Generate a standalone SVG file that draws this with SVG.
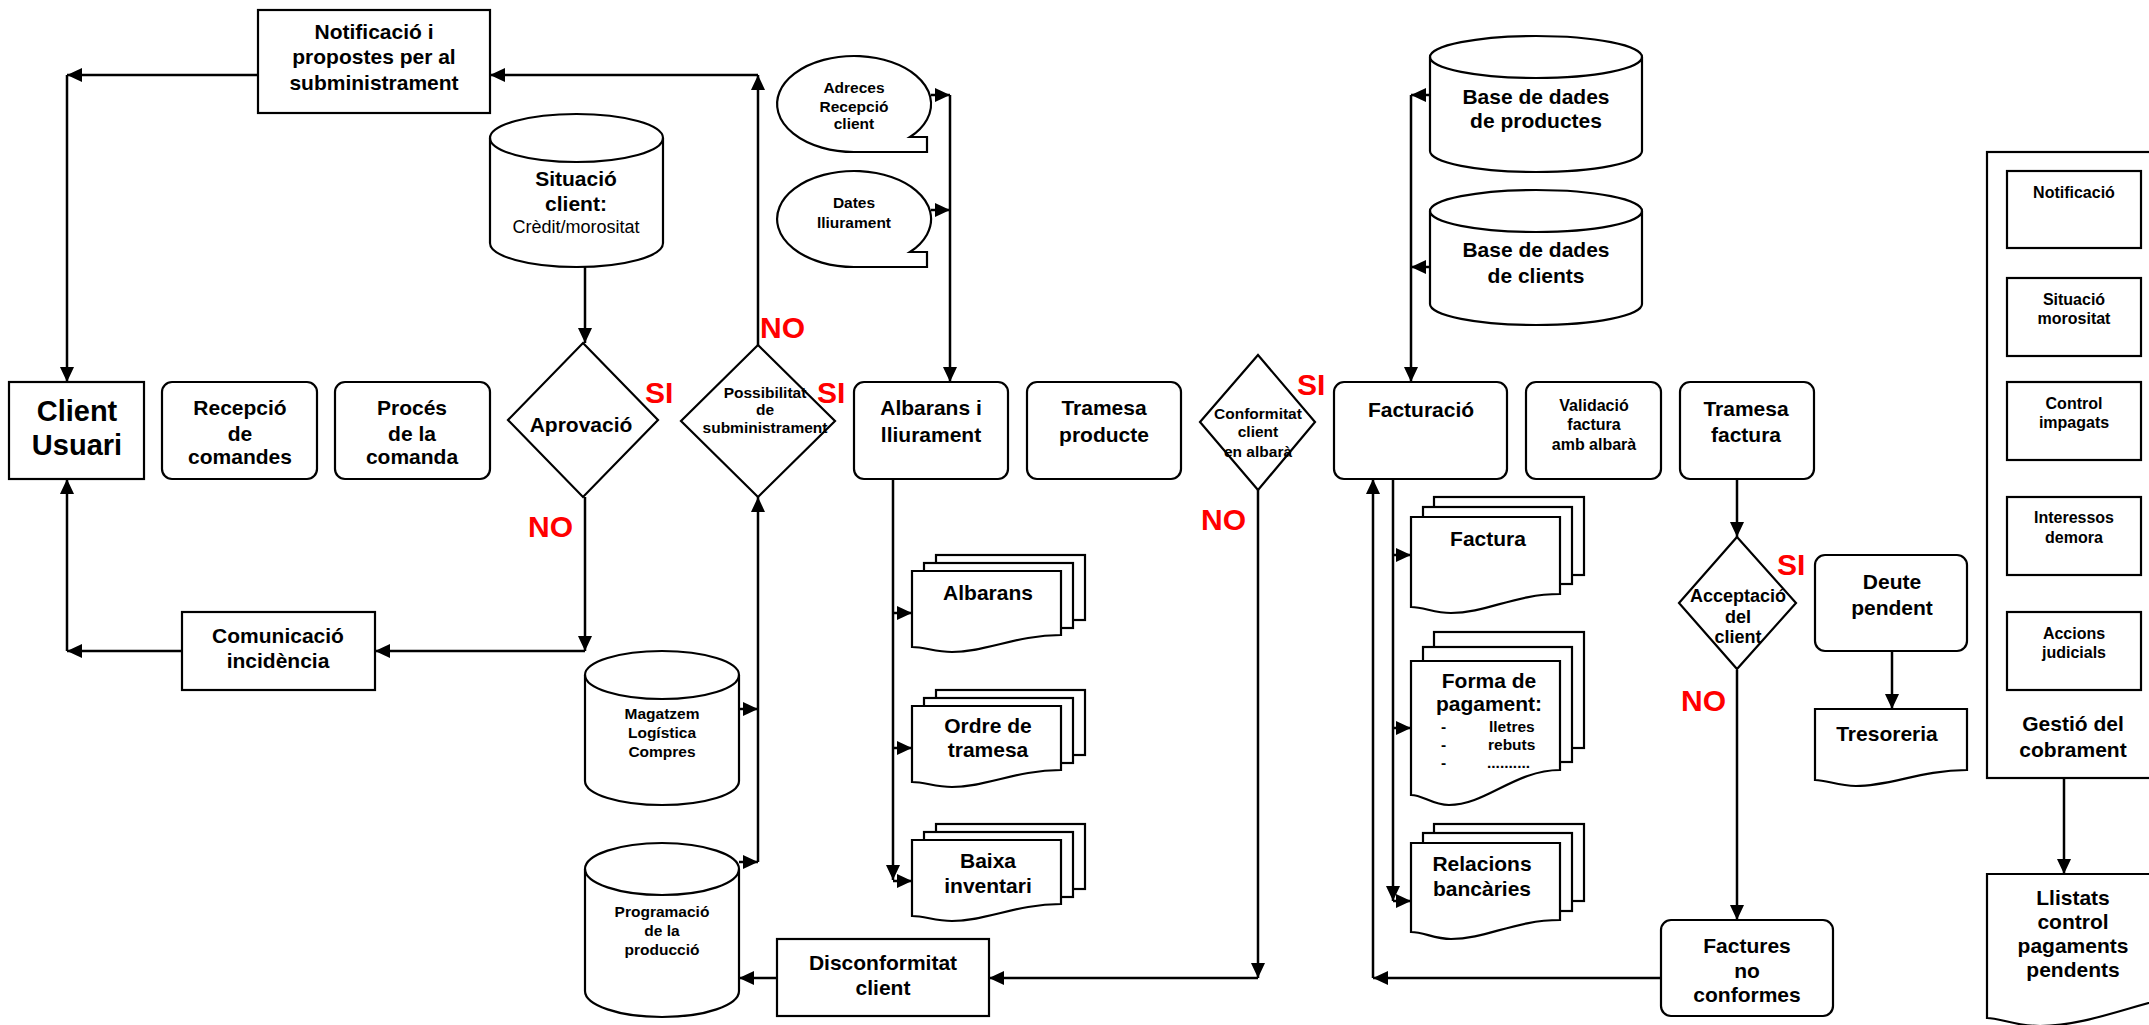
<svg xmlns="http://www.w3.org/2000/svg" width="2149" height="1025" viewBox="0 0 2149 1025">
<style>
.b{fill:#fff;stroke:#000;stroke-width:2.2}
.fr{fill:none;stroke:#000;stroke-width:2.2}
.l{fill:none;stroke:#000;stroke-width:2.5;marker-end:url(#ah)}
text{font-family:"Liberation Sans",Arial,sans-serif;font-weight:bold;text-anchor:middle;fill:#000}
.f21{font-size:21px}
.f15{font-size:15.5px}
.f16{font-size:16px}
.f18{font-size:18px}
.f29{font-size:29px}
.nw{font-weight:normal;font-size:18px}
.r{fill:#f00;font-size:30px;text-anchor:start}
.st{text-anchor:start}
</style>
<defs>
<marker id="ah" markerUnits="userSpaceOnUse" markerWidth="15" markerHeight="14" viewBox="0 0 15 14" refX="15" refY="7" orient="auto"><path d="M0,0 L15,7 L0,14 z" fill="#000"/></marker>
</defs>
<rect width="2149" height="1025" fill="#fff"/>

<g id="connectors">
<path class="l" d="M258,75 H67"/>
<path class="l" d="M67,75 V382"/>
<path class="l" d="M758,345 V75"/>
<path class="l" d="M758,75 H490"/>
<path class="l" d="M585,267 V343"/>
<path class="l" d="M585,497 V651"/>
<path class="l" d="M585,651 H375"/>
<path class="l" d="M182,651 H67"/>
<path class="l" d="M67,651 V479"/>
<path class="l" d="M739,709 H758"/>
<path class="l" d="M739,862 H758"/>
<path class="l" d="M758,862 V497"/>
<path class="l" d="M777,978 H739"/>
<path class="l" d="M1258,490 V978"/>
<path class="l" d="M1258,978 H989"/>
<path class="l" d="M931,95 H950"/>
<path class="l" d="M931,210 H950"/>
<path class="l" d="M950,95 V382"/>
<path class="l" d="M893,479 V880"/>
<path class="l" d="M893,613 H912"/>
<path class="l" d="M893,748 H912"/>
<path class="l" d="M893,881 H912"/>
<path class="l" d="M1430,95 H1411"/>
<path class="l" d="M1430,267 H1411"/>
<path class="l" d="M1411,95 V382"/>
<path class="l" d="M1393,479 V901"/>
<path class="l" d="M1393,555 H1411"/>
<path class="l" d="M1393,728 H1411"/>
<path class="l" d="M1393,901 H1411"/>
<path class="l" d="M1661,978 H1373"/>
<path class="l" d="M1373,978 V479"/>
<path class="l" d="M1737,479 V537"/>
<path class="l" d="M1737,670 V920"/>
<path class="l" d="M1892,651 V709"/>
<path class="l" d="M2064,778 V874"/>
</g>

<g id="notificacio-propostes">
<rect class="b" x="258" y="10" width="232" height="103"/>
<text class="f21" x="374" y="39">Notificació i</text>
<text class="f21" x="374" y="64">propostes per al</text>
<text class="f21" x="374" y="90">subministrament</text>
</g>

<g id="client-usuari">
<rect class="b" x="9" y="382" width="135" height="97"/>
<text class="f29" x="77" y="421">Client</text>
<text class="f29" x="77" y="455">Usuari</text>
</g>

<g id="recepcio">
<rect class="b" x="162" y="382" width="155" height="97" rx="10"/>
<text class="f21" x="240" y="415">Recepció</text>
<text class="f21" x="240" y="441">de</text>
<text class="f21" x="240" y="464">comandes</text>
</g>

<g id="proces">
<rect class="b" x="335" y="382" width="155" height="97" rx="10"/>
<text class="f21" x="412" y="415">Procés</text>
<text class="f21" x="412" y="441">de la</text>
<text class="f21" x="412" y="464">comanda</text>
</g>

<g id="situacio-client">
<path class="b" d="M490,138 A86.5,24 0 0 1 663,138 V243 A86.5,24 0 0 1 490,243 Z"/>
<path class="fr" d="M490,138 A86.5,24 0 0 0 663,138"/>
<text class="f21" x="576" y="186">Situació</text>
<text class="f21" x="576" y="211">client:</text>
<text class="nw" x="576" y="233">Crèdit/morositat</text>
</g>

<g id="aprovacio">
<polygon class="b" points="583,343 658,420 583,497 508,420"/>
<text class="f21" x="581" y="432">Aprovació</text>
</g>

<g id="possibilitat">
<polygon class="b" points="758,345 835,421 758,497 681,421"/>
<text class="f15" x="765" y="398">Possibilitat</text>
<text class="f15" x="765" y="415">de</text>
<text class="f15" x="765" y="433">subministrament</text>
</g>

<g id="comunicacio">
<rect class="b" x="182" y="612" width="193" height="78"/>
<text class="f21" x="278" y="643">Comunicació</text>
<text class="f21" x="278" y="668">incidència</text>
</g>

<g id="magatzem">
<path class="b" d="M585,675 A77,24 0 0 1 739,675 V781 A77,24 0 0 1 585,781 Z"/>
<path class="fr" d="M585,675 A77,24 0 0 0 739,675"/>
<text class="f15" x="662" y="719">Magatzem</text>
<text class="f15" x="662" y="738">Logística</text>
<text class="f15" x="662" y="757">Compres</text>
</g>

<g id="programacio">
<path class="b" d="M585,869 A77,26 0 0 1 739,869 V991 A77,26 0 0 1 585,991 Z"/>
<path class="fr" d="M585,869 A77,26 0 0 0 739,869"/>
<text class="f15" x="662" y="917">Programació</text>
<text class="f15" x="662" y="936">de la</text>
<text class="f15" x="662" y="955">producció</text>
</g>

<g id="adreces">
<path class="b" d="M854,152 A77,48 0 1 1 910,137 H927 V152 Z"/>
<text class="f15" x="854" y="93">Adreces</text>
<text class="f15" x="854" y="112">Recepció</text>
<text class="f15" x="854" y="129">client</text>
</g>

<g id="dates">
<path class="b" d="M854,267 A77,48 0 1 1 910,252 H927 V267 Z"/>
<text class="f15" x="854" y="208">Dates</text>
<text class="f15" x="854" y="228">lliurament</text>
</g>

<g id="albarans-lliurament">
<rect class="b" x="854" y="382" width="154" height="97" rx="10"/>
<text class="f21" x="931" y="415">Albarans i</text>
<text class="f21" x="931" y="442">lliurament</text>
</g>

<g id="tramesa-producte">
<rect class="b" x="1027" y="382" width="154" height="97" rx="10"/>
<text class="f21" x="1104" y="415">Tramesa</text>
<text class="f21" x="1104" y="442">producte</text>
</g>

<g id="doc-albarans">
<rect class="b" x="936" y="555" width="149" height="65"/>
<rect class="b" x="924" y="563" width="149" height="65"/>
<path class="b" d="M912,571 H1061 V635 C1016,635 987,652 952,652 C935,652 925,647 912,647 Z"/>
<text class="f21" x="988" y="600">Albarans</text>
</g>

<g id="doc-ordre">
<rect class="b" x="936" y="690" width="149" height="65"/>
<rect class="b" x="924" y="698" width="149" height="65"/>
<path class="b" d="M912,706 H1061 V770 C1016,770 987,787 952,787 C935,787 925,782 912,782 Z"/>
<text class="f21" x="988" y="733">Ordre de</text>
<text class="f21" x="988" y="757">tramesa</text>
</g>

<g id="doc-baixa">
<rect class="b" x="936" y="824" width="149" height="65"/>
<rect class="b" x="924" y="832" width="149" height="65"/>
<path class="b" d="M912,840 H1061 V904 C1016,904 987,921 952,921 C935,921 925,916 912,916 Z"/>
<text class="f21" x="988" y="868">Baixa</text>
<text class="f21" x="988" y="893">inventari</text>
</g>

<g id="disconformitat">
<rect class="b" x="777" y="939" width="212" height="77"/>
<text class="f21" x="883" y="970">Disconformitat</text>
<text class="f21" x="883" y="995">client</text>
</g>

<g id="conformitat">
<polygon class="b" points="1258,355 1315,422 1258,490 1200,422"/>
<text class="f15" x="1258" y="419">Conformitat</text>
<text class="f15" x="1258" y="437">client</text>
<text class="f15" x="1258" y="457">en albarà</text>
</g>

<g id="bd-productes">
<path class="b" d="M1430,57 A106,21 0 0 1 1642,57 V151 A106,21 0 0 1 1430,151 Z"/>
<path class="fr" d="M1430,57 A106,21 0 0 0 1642,57"/>
<text class="f21" x="1536" y="104">Base de dades</text>
<text class="f21" x="1536" y="128">de productes</text>
</g>

<g id="bd-clients">
<path class="b" d="M1430,211 A106,21 0 0 1 1642,211 V304 A106,21 0 0 1 1430,304 Z"/>
<path class="fr" d="M1430,211 A106,21 0 0 0 1642,211"/>
<text class="f21" x="1536" y="257">Base de dades</text>
<text class="f21" x="1536" y="283">de clients</text>
</g>

<g id="facturacio">
<rect class="b" x="1334" y="382" width="173" height="97" rx="10"/>
<text class="f21" x="1421" y="417">Facturació</text>
</g>

<g id="validacio">
<rect class="b" x="1526" y="382" width="135" height="97" rx="10"/>
<text class="f16" x="1594" y="411">Validació</text>
<text class="f16" x="1594" y="430">factura</text>
<text class="f16" x="1594" y="450">amb albarà</text>
</g>

<g id="tramesa-factura">
<rect class="b" x="1680" y="382" width="134" height="97" rx="10"/>
<text class="f21" x="1746" y="416">Tramesa</text>
<text class="f21" x="1746" y="442">factura</text>
</g>

<g id="doc-factura">
<rect class="b" x="1434" y="497" width="150" height="78"/>
<rect class="b" x="1423" y="507" width="149" height="77"/>
<path class="b" d="M1411,517 H1560 V594 C1515,594 1486,613 1451,613 C1434,613 1424,607 1411,607 Z"/>
<text class="f21" x="1488" y="546">Factura</text>
</g>

<g id="doc-forma-pagament">
<rect class="b" x="1434" y="632" width="150" height="116"/>
<rect class="b" x="1423" y="647" width="149" height="115"/>
<path class="b" d="M1411,661 H1560 V770 C1515,770 1486,805 1449,805 C1432,805 1423,795 1411,795 Z"/>
<text class="f21" x="1489" y="688">Forma de</text>
<text class="f21" x="1489" y="711">pagament:</text>
<text class="f15 st" x="1441" y="732">-</text>
<text class="f15 st" x="1489" y="732">lletres</text>
<text class="f15 st" x="1441" y="750">-</text>
<text class="f15 st" x="1488" y="750">rebuts</text>
<text class="f15 st" x="1441" y="768">-</text>
<text class="f15 st" x="1487" y="768">..........</text>
</g>

<g id="doc-relacions">
<rect class="b" x="1434" y="824" width="150" height="77"/>
<rect class="b" x="1423" y="833" width="149" height="78"/>
<path class="b" d="M1411,843 H1560 V920 C1515,920 1486,939 1451,939 C1434,939 1424,932 1411,932 Z"/>
<text class="f21" x="1482" y="871">Relacions</text>
<text class="f21" x="1482" y="896">bancàries</text>
</g>

<g id="acceptacio">
<polygon class="b" points="1737,537 1796,603 1737,669 1679,603"/>
<text class="f18" x="1738" y="602">Acceptació</text>
<text class="f18" x="1738" y="623">del</text>
<text class="f18" x="1738" y="643">client</text>
</g>

<g id="factures-no-conformes">
<rect class="b" x="1661" y="920" width="172" height="96" rx="10"/>
<text class="f21" x="1747" y="953">Factures</text>
<text class="f21" x="1747" y="978">no</text>
<text class="f21" x="1747" y="1002">conformes</text>
</g>

<g id="deute-pendent">
<rect class="b" x="1815" y="555" width="152" height="96" rx="10"/>
<text class="f21" x="1892" y="589">Deute</text>
<text class="f21" x="1892" y="615">pendent</text>
</g>

<g id="tresoreria">
<path class="b" d="M1815,709 H1967 V770 C1921,770 1891,786 1856,786 C1838,786 1827,780 1815,780 Z"/>
<text class="f21" x="1887" y="741">Tresoreria</text>
</g>

<g id="gestio-cobrament">
<rect class="b" x="1987" y="152" width="220" height="626"/>
<rect class="b" x="2007" y="171" width="134" height="77"/>
<text class="f16" x="2074" y="198">Notificació</text>
<rect class="b" x="2007" y="278" width="134" height="78"/>
<text class="f16" x="2074" y="305">Situació</text>
<text class="f16" x="2074" y="324">morositat</text>
<rect class="b" x="2007" y="382" width="134" height="78"/>
<text class="f16" x="2074" y="409">Control</text>
<text class="f16" x="2074" y="428">impagats</text>
<rect class="b" x="2007" y="497" width="134" height="78"/>
<text class="f16" x="2074" y="523">Interessos</text>
<text class="f16" x="2074" y="543">demora</text>
<rect class="b" x="2007" y="612" width="134" height="78"/>
<text class="f16" x="2074" y="639">Accions</text>
<text class="f16" x="2074" y="658">judicials</text>
<text class="f21" x="2073" y="731">Gestió del</text>
<text class="f21" x="2073" y="757">cobrament</text>
</g>

<g id="llistats">
<path class="b" d="M1987,874 H2227 V990 C2160,990 2100,1026 2040,1026 C2015,1026 2000,1018 1987,1018 Z"/>
<text class="f21" x="2073" y="905">Llistats</text>
<text class="f21" x="2073" y="929">control</text>
<text class="f21" x="2073" y="953">pagaments</text>
<text class="f21" x="2073" y="977">pendents</text>
</g>

<g id="labels">
<text class="r" x="645" y="403">SI</text>
<text class="r" x="528" y="537">NO</text>
<text class="r" x="760" y="338">NO</text>
<text class="r" x="817" y="403">SI</text>
<text class="r" x="1297" y="395">SI</text>
<text class="r" x="1201" y="530">NO</text>
<text class="r" x="1777" y="575">SI</text>
<text class="r" x="1681" y="711">NO</text>
</g>
</svg>
